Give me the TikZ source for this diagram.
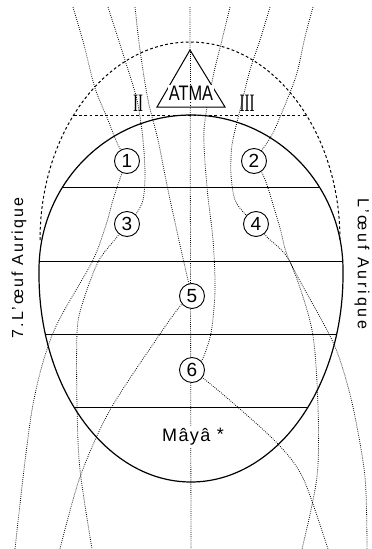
\documentclass[tikz,border=0pt]{standalone}
\usepackage{fontspec}
\setmainfont{Liberation Sans}
\newfontfamily\romanfont{Liberation Serif}
\begin{document}
\begin{tikzpicture}[x=1pt,y=1pt,
  eggline/.style={line width=1.2pt},
  band/.style={line width=1pt},
  dotline/.style={line width=0.8pt, dash pattern=on 0.8pt off 1.3pt},
  dashline/.style={line width=1pt, dash pattern=on 2.8pt off 2.4pt},
  numc/.style={circle, draw, line width=0.9pt, fill=white, minimum size=25pt, inner sep=0pt, font=\fontsize{19}{19}\selectfont},
  roman/.style={font=\romanfont\fontsize{25}{25}\selectfont, inner sep=0pt},
  sidetext/.style={font=\fontsize{16}{16}\selectfont, inner sep=0pt}]
\useasboundingbox (0,0) rectangle (372,-549);
% centres of the numbered circles
\coordinate (p1) at (127,-161);
\coordinate (p2) at (254,-161);
\coordinate (p3) at (127,-224);
\coordinate (p4) at (256,-224);
\coordinate (p5) at (192,-296);
\coordinate (p6) at (192,-370);
% dotted field lines
\draw[dotline] (190,-7) -- (191,-549);
\draw[dotline] plot[smooth, tension=0.5] coordinates {(73,-7) (84,-45) (95,-88) (108,-120) (118,-145) (p1) (122,-173) (113,-200) (106,-225) (92,-262) (53,-333) (32,-410) (15,-549)};
\draw[dotline] plot[smooth, tension=0.5] coordinates {(108,-7) (125,-60) (137,-100) (143,-140) (145,-175) (143,-200) (136,-214) (p3) (117,-237) (98,-262) (82,-305) (77,-333) (77,-407) (80,-470) (92,-549)};
\draw[dotline] plot[smooth, tension=0.5] coordinates {(135,-7) (140,-50) (148,-100) (158,-140) (168,-190) (180,-245) (188,-280) (p5) (181,-305) (160,-334) (110,-410) (80,-477) (60,-549)};
\draw[dotline] plot[smooth, tension=0.5] coordinates {(230,-7) (222,-40) (213,-77) (204,-130) (207,-187) (213,-240) (215,-290) (211,-333) (202,-360) (p6) (203,-378) (233,-403) (277,-443) (303,-478) (328,-549)};
\draw[dotline] plot[smooth, tension=0.5] coordinates {(270,-7) (260,-40) (250,-70) (240,-110) (232,-145) (231,-175) (235,-200) (245,-214) (p4) (267,-237) (290,-262) (312,-330) (318,-407) (317,-477) (302,-549)};
\draw[dotline] plot[smooth, tension=0.5] coordinates {(313,-7) (305,-37) (297,-73) (287,-100) (273,-133) (262,-150) (p2) (262,-173) (268,-188) (280,-228) (290,-262) (327,-330) (340,-360) (353,-407) (365,-477) (367,-549)};
% outer dashed arc and top dashed line
\draw[dashline] (40,-240) arc[start angle=180, end angle=0, x radius=150pt, y radius=198pt];
\draw[dashline] (74,-115) -- (306,-115);
% the egg
\draw[eggline] (39,-270) arc[start angle=180, end angle=0, x radius=152pt, y radius=155pt]
  -- (343,-275) arc[start angle=0, end angle=-180, x radius=152pt, y radius=207pt] -- cycle;
\draw[band] (62.6,-187) -- (319.4,-187);
\draw[band] (39.3,-261) -- (342.7,-261);
\draw[band] (45.3,-334) -- (336.7,-334);
\draw[band] (73.9,-407) -- (308.1,-407);
% ATMA triangle
\draw[line width=1pt, fill=white] (190,-50) -- (225,-107) -- (157,-107) -- cycle;
\draw[dotline] (190,-52) -- (190,-106);
\node[font=\fontsize{21}{21}\selectfont, inner sep=0.5pt, fill=white] (atma) at (191,-93) {\scalebox{0.78}[1]{ATMA}};
\node[roman] (two) at (138,-103) {\scalebox{0.6}[1]{II}};
\node[roman] (three) at (247,-103) {\scalebox{0.6}[1]{III}};
% numbered circles
\node[numc] (c1) at (p1) {1};
\node[numc] (c2) at (p2) {2};
\node[numc] (c3) at (p3) {3};
\node[numc] (c4) at (p4) {4};
\node[numc] (c5) at (p5) {5};
\node[numc] (c6) at (p6) {6};
% labels
\node[font=\fontsize{18}{18}\selectfont, fill=white, inner sep=1pt] (maya) at (193,-437) {\addfontfeature{LetterSpace=8}Mâyâ\ \raisebox{1pt}{*}};
\node[sidetext, rotate=90] (left) at (19,-268) {\addfontfeature{LetterSpace=13}7.L'œuf Aurique};
\node[sidetext, rotate=-90] (right) at (362,-264) {\addfontfeature{LetterSpace=18}L'œuf Aurique};
\end{tikzpicture}
\end{document}
